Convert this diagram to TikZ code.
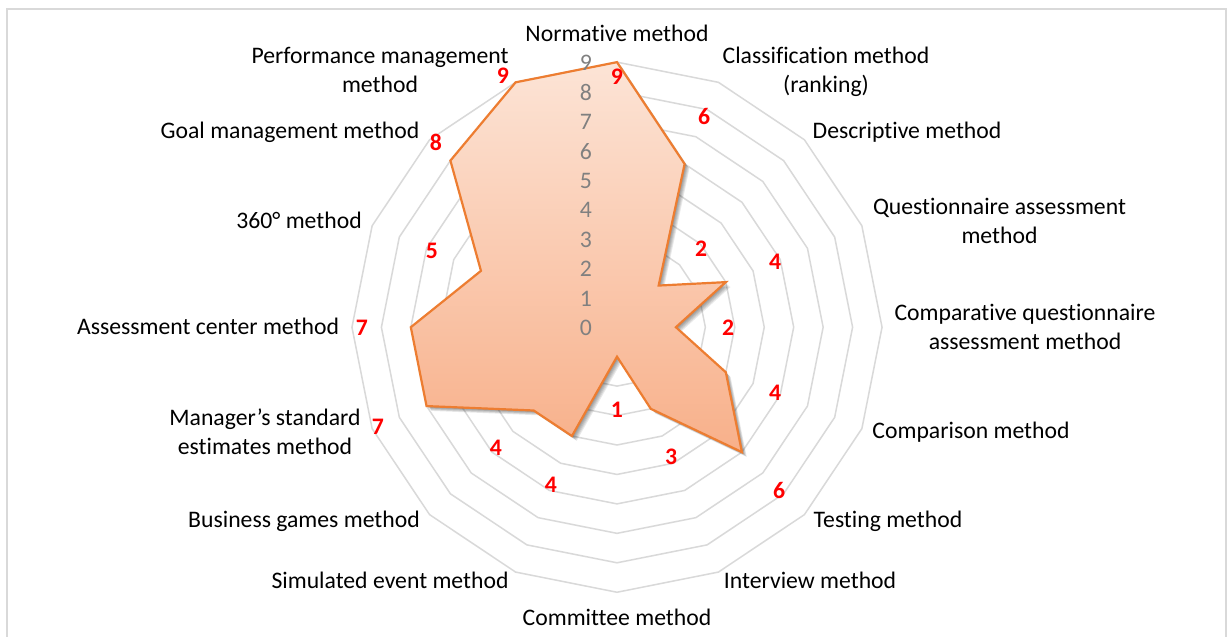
\documentclass[tikz,border=0pt]{standalone}
\usepackage{fontspec}
\setmainfont{Carlito}[Ligatures={NoCommon}]
\usetikzlibrary{calc}
\definecolor{ringgray}{RGB}{217,217,217}
\definecolor{framegray}{RGB}{217,217,217}
\definecolor{polyline}{RGB}{237,125,49}
\definecolor{filltop}{RGB}{252,228,214}
\definecolor{fillbot}{RGB}{248,176,138}
\definecolor{scalegray}{RGB}{128,128,128}
\definecolor{datared}{RGB}{255,0,0}
\begin{document}
\begin{tikzpicture}[x=1pt,y=-1pt,
  ring/.style={draw=ringgray,line width=1.5pt},
  axislabel/.style={font=\fontsize{23.7}{29}\selectfont,align=center,text=black,inner sep=0pt},
  scalelabel/.style={font=\fontsize{23.7}{29}\selectfont,text=scalegray,inner sep=0pt},
  datalabel/.style={font=\fontsize{23.7}{29}\selectfont\bfseries,text=datared,inner sep=0pt},
  seriesline/.style={draw=polyline,line width=2.2pt,line join=miter}]
\useasboundingbox (0,0) rectangle (1227,637);
\fill[white] (0,0) rectangle (1227,637);
\draw[framegray,line width=1.5pt] (7,640) -- (7,9) -- (1226,9) -- (1226,640);
\coordinate (C) at (617,327.2);
% grid rings
\foreach \k in {1,...,9}{
  \draw[ring] ({617+\k*29.45*cos(-90)},{327.2+\k*29.45*sin(-90)})
    \foreach \i in {1,...,15}{ -- ({617+\k*29.45*cos(-90+22.5*\i)},{327.2+\k*29.45*sin(-90+22.5*\i)}) } -- cycle;
}
% data vertices
\foreach \v [count=\i from 0] in {9,6,2,4,2,4,6,3,1,4,4,7,7,5,8,9}{
  \coordinate (v\i) at ({617+\v*29.45*cos(-90+22.5*\i)},{327.2+\v*29.45*sin(-90+22.5*\i)});
}
% shadow
\foreach \d in {1,...,6}{
  \begin{scope}[transform canvas={shift={(\d*0.8,\d*0.8)}}]
  \fill[black,opacity=0.085] (v0) -- (v1) -- (v2) -- (v3) -- (v4) -- (v5) -- (v6) -- (v7) -- (v8) -- (v9) -- (v10) -- (v11) -- (v12) -- (v13) -- (v14) -- (v15) -- cycle;
  \end{scope}
}
% series
\shadedraw[top color=filltop,bottom color=fillbot,seriesline] (v0) -- (v1) -- (v2) -- (v3) -- (v4) -- (v5) -- (v6) -- (v7) -- (v8) -- (v9) -- (v10) -- (v11) -- (v12) -- (v13) -- (v14) -- (v15) -- cycle;
% scale labels
\foreach \k in {0,...,9}{
  \node[scalelabel] (s\k) at (586,{327.2-\k*29.45+0.8}) {\k};
}
% data labels
\node[datalabel] (d0) at (617,77) {9};
\node[datalabel] (d1) at (704,116) {6};
\node[datalabel] (d2) at (701,249) {2};
\node[datalabel] (d3) at (775,262) {4};
\node[datalabel] (d4) at (728,328) {2};
\node[datalabel] (d5) at (775,393) {4};
\node[datalabel] (d6) at (779,490) {6};
\node[datalabel] (d7) at (671,457) {3};
\node[datalabel] (d8) at (617,410) {1};
\node[datalabel] (d9) at (551,485) {4};
\node[datalabel] (d10) at (496,448) {4};
\node[datalabel] (d11) at (378,427) {7};
\node[datalabel] (d12) at (362,328) {7};
\node[datalabel] (d13) at (432,251) {5};
\node[datalabel] (d14) at (436,142) {8};
\node[datalabel] (d15) at (503,76) {9};
% axis labels
\node[axislabel] (a0) at (617,33) {Normative method};
\node[axislabel] (a1) at (826,72) {Classification method\\(ranking)};
\node[axislabel] (a2) at (907,132) {Descriptive method};
\node[axislabel] (a3) at (999.5,221) {Questionnaire assessment\\method};
\node[axislabel] (a4) at (1025,326.5) {Comparative questionnaire\\assessment method};
\node[axislabel] (a5) at (971,432) {Comparison method};
\node[axislabel] (a6) at (888,521) {Testing method};
\node[axislabel] (a7) at (810,580) {Interview method};
\node[axislabel] (a8) at (617,617) {Committee method};
\node[axislabel] (a9) at (390,580) {Simulated event method};
\node[axislabel] (a10) at (304,521) {Business games method};
\node[axislabel] (a11) at (265,431.5) {Manager’s standard\\estimates method};
\node[axislabel] (a12) at (208,326) {Assessment center method};
\node[axislabel] (a13) at (299,220) {360° method};
\node[axislabel] (a14) at (290,132) {Goal management method};
\node[axislabel] (a15) at (380,70) {Performance management\\method};
\end{tikzpicture}
\end{document}
